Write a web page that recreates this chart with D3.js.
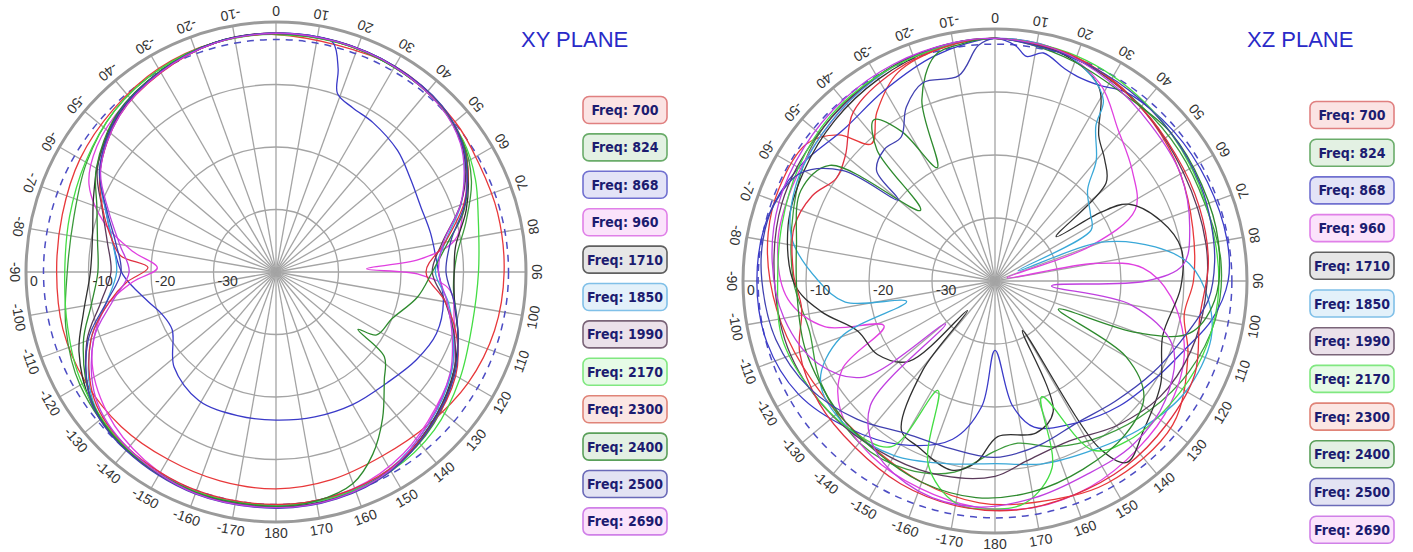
<!DOCTYPE html>
<html>
<head>
<meta charset="utf-8">
<script src="https://cdn.jsdelivr.net/npm/d3@7"></script>
<style>
  body { margin: 0; background: #fff; }
  text { font-family: Arial, "Liberation Sans", sans-serif; }
</style>
</head>
<body>
<script>
var width = 1413, height = 552;

var svg = d3.select("body").append("svg")
  .attr("width", width)
  .attr("height", height);

// legend / series info
var freqs = [700, 824, 868, 960, 1710, 1850, 1990, 2170, 2300, 2400, 2500, 2690];
var lineColors = ["#e8383a", "#3c9a3c", "#3a3ac8", "#e040e0", "#303030", "#3aa8d8",
  "#5a3a5a", "#44dd44", "#e03040", "#2e8a2e", "#4040b0", "#c040e0"];
var boxFills = ["#fbe3e3", "#e3f1e3", "#e3e3f7", "#fbe3fb", "#e6e6e6", "#e3f1fa",
  "#ebe1ea", "#e6fbe6", "#fbe6e3", "#e3f0e3", "#e3e3f3", "#fbe3fb"];
var boxStrokes = ["#e08080", "#6aac6a", "#7070d0", "#e080e8", "#606060", "#80c0e8",
  "#7a6478", "#80e880", "#e08478", "#5aa05a", "#6a6ab8", "#d080e8"];

var dbTicks = [0, -10, -20, -30];
var angleTicks = d3.range(0, 360, 10);

// XY plane, [angle deg clockwise from top, dB]
var xy700 = [[0,-2],[30,-2],[50,-2.6],[62,-3.2],[75,-3.3],[90,-3.5],[105,-3.8],[120,-4.5],[135,-5.5],[150,-6],[165,-5.6],[180,-5.3],[195,-5.4],[210,-5.4],[225,-5],[240,-4.8],[255,-4.7],[270,-4.9],[285,-4.6],[300,-3.8],[315,-3.2],[330,-2.4],[345,-2]];
var xy824 = [[0,-1.9],[20,-2],[40,-2.4],[55,-3.5],[65,-5.5],[75,-8.5],[85,-11],[95,-11.5],[105,-10],[115,-8],[130,-5.5],[145,-3.8],[160,-3],[180,-2.7],[200,-2.6],[220,-2.8],[240,-3.8],[255,-5.2],[270,-6.6],[285,-6.5],[300,-5],[315,-3.5],[330,-2.6],[345,-2]];
var xy868 = [[0,-1.8],[10,-1.8],[14,-2.2],[17,-6],[19,-9.8],[25,-11],[33,-11.5],[45,-12.5],[55,-13.8],[66,-14.6],[76,-14.5],[90,-14],[100,-12.8],[111,-12.5],[122,-13.5],[135,-14.9],[150,-15.5],[165,-16],[180,-16.3],[195,-16.2],[211,-16],[227,-17.7],[241,-21],[250,-20.5],[257,-19],[269,-15.5],[280,-13.5],[290,-11],[300,-7.5],[315,-4.5],[330,-3],[345,-2.1]];
var xy960 = [[0,-1.8],[20,-1.9],[40,-2.3],[52,-3.2],[62,-5.5],[72,-8.5],[80,-11],[85,-17],[88,-25.5],[91,-17],[96,-12],[105,-10.5],[118,-8],[130,-6.5],[145,-4.5],[160,-3.2],[180,-2.6],[200,-2.6],[215,-3.3],[230,-4.8],[245,-7.5],[258,-12],[266,-17],[272,-21],[278,-17],[285,-12],[295,-7],[305,-5],[318,-3.8],[332,-2.8],[346,-2]];
var xy1710 = [[0,-1.8],[20,-1.9],[40,-2.3],[55,-3.6],[63,-5.5],[72,-8],[82,-11],[90,-11.5],[100,-11],[110,-9],[122,-7],[135,-5.2],[150,-3.4],[165,-2.6],[180,-2.4],[200,-2.4],[220,-2.8],[235,-3.8],[248,-6],[258,-8.5],[270,-10.3],[282,-10],[292,-8.5],[302,-6.5],[315,-4.2],[330,-2.9],[345,-2]];
var xy1850 = [[0,-1.8],[15,-1.9],[30,-2],[45,-2.5],[55,-3.8],[62,-5.8],[70,-8.5],[80,-12.5],[90,-14.5],[100,-12],[110,-9.8],[120,-7.6],[135,-5.5],[150,-3.6],[165,-2.8],[180,-2.6],[200,-2.5],[220,-2.9],[235,-4.2],[250,-8.5],[260,-12.5],[270,-14.5],[280,-13.5],[290,-11],[300,-7.4],[315,-4.3],[330,-3],[345,-2.1]];
var xy1990 = [[0,-1.8],[15,-1.9],[30,-2],[45,-2.6],[55,-3.9],[62,-5.6],[70,-8.6],[80,-13],[90,-15],[100,-12.5],[110,-9.6],[120,-7.2],[135,-5.2],[150,-3.4],[165,-2.6],[180,-2.4],[200,-2.4],[220,-2.9],[235,-4],[250,-7.8],[260,-11.5],[270,-13.6],[280,-12.6],[290,-10.4],[300,-7],[315,-4.4],[330,-3.1],[345,-2.1]];
var xy2170 = [[0,-2],[20,-2],[40,-2.4],[55,-3.4],[65,-4.8],[75,-6.5],[90,-7.6],[105,-7.5],[120,-6],[135,-4.2],[150,-3.2],[165,-2.8],[180,-2.7],[200,-2.6],[220,-3],[240,-4.2],[255,-5.5],[270,-6.2],[285,-5.8],[300,-4.8],[315,-3.5],[330,-2.6],[345,-2.1]];
var xy2300 = [[0,-1.9],[15,-1.9],[30,-2.1],[45,-2.6],[55,-3.6],[62,-5.2],[70,-8],[80,-12.5],[90,-16],[100,-12.5],[110,-9.2],[120,-6.8],[135,-5],[150,-3.6],[165,-3],[180,-2.8],[200,-2.8],[220,-3.2],[235,-4.5],[250,-8.5],[260,-13],[266,-16],[272,-19.5],[276,-15],[282,-13],[290,-10.5],[300,-7.5],[315,-4.6],[330,-3.2],[345,-2.1]];
var xy2400 = [[0,-1.9],[20,-2],[40,-2.4],[55,-3.6],[63,-5.6],[72,-8.4],[80,-12],[90,-15],[100,-17],[112,-20],[122,-21],[125,-24],[128,-18],[135,-15.5],[144,-11],[152,-7],[160,-4],[170,-2.8],[180,-2.5],[200,-2.5],[220,-2.9],[235,-4],[250,-7.2],[260,-10],[270,-11.5],[280,-11],[290,-9.5],[300,-6.8],[315,-4.1],[330,-2.9],[345,-2]];
var xy2500 = [[0,-1.8],[15,-1.8],[30,-2],[45,-2.4],[55,-3.7],[62,-5.4],[70,-7.8],[80,-11.6],[90,-12.8],[100,-11],[110,-9],[120,-7],[135,-5],[150,-3.2],[165,-2.4],[180,-2.2],[200,-2.2],[220,-2.7],[235,-3.9],[250,-8],[260,-12.5],[270,-15.2],[280,-14],[290,-11.2],[300,-7.4],[315,-4.3],[330,-3],[345,-2]];
var xy2690 = [[0,-1.8],[15,-1.9],[30,-2.1],[45,-2.7],[55,-4],[62,-5.9],[70,-8.6],[80,-12.8],[90,-14],[100,-12.2],[110,-10],[120,-7.8],[135,-5.6],[150,-3.4],[165,-2.5],[180,-2.3],[200,-2.3],[220,-3.2],[235,-4.8],[250,-9],[260,-13.5],[270,-16.5],[280,-14.6],[290,-11.5],[300,-7.6],[315,-4.6],[330,-3.1],[345,-2.1]];

// XZ plane
var xz700 = [[0,-1.5],[15,-2],[30,-3],[45,-4.5],[60,-6],[75,-7.5],[90,-8.5],[100,-9.5],[111,-7.2],[129,-3.7],[151,-3.3],[170,-4.3],[184,-4.7],[200,-6],[218,-7.3],[236,-7.2],[255,-5.8],[270,-4.3],[282,-3.2],[293,-2.7],[306,-3],[313,-6],[318,-10.7],[325,-7.3],[335,-3.5],[348,-2]];
var xz824 = [[0,-1.5],[20,-2.5],[40,-3.8],[55,-4.2],[70,-4.5],[85,-4],[100,-4.5],[115,-6],[130,-8],[145,-10],[160,-12],[172,-14],[180,-13],[192,-9],[205,-7],[220,-6.5],[240,-8],[255,-9.5],[270,-8],[290,-6],[305,-4],[320,-3],[340,-2]];
var xz868 = [[0,-1.5],[5,-2.5],[8,-4],[12,-3],[18,-4.5],[22,-5],[28,-4.8],[35,-3.5],[50,-3],[65,-2.8],[80,-2.6],[90,-3],[100,-5],[110,-8],[120,-10],[135,-12],[150,-14],[165,-16],[172,-20],[180,-29],[186,-20],[195,-14],[210,-10],[225,-7],[240,-4],[255,-2.5],[270,-2.2],[285,-2.5],[300,-4],[315,-6],[330,-5],[345,-3]];
var xz960 = [[0,-1.5],[15,-2],[28,-4.5],[39,-9],[51,-12],[63,-15],[70,-24],[75,-38],[80,-24],[85,-16.4],[95,-12],[110,-8],[125,-6],[140,-5],[155,-4],[170,-3.5],[185,-4],[200,-5],[215,-6],[230,-8],[240,-12],[248,-21],[255,-12],[265,-7],[280,-5],[295,-4.5],[310,-4],[325,-3],[340,-2]];
var xz1710 = [[0,-1.5],[15,-2.2],[28,-5],[35.6,-11.7],[42,-14],[48.6,-16.5],[54,-28],[57,-20],[60,-15.6],[70,-12],[80,-10],[92,-10.5],[108,-12],[122,-9],[135,-6.6],[144,-4.4],[148,-8.7],[151,-31],[156,-17.3],[165,-15],[179,-15.3],[186,-11],[193,-9.2],[205,-11],[212,-12],[219,-21.8],[223,-33.6],[227,-21.3],[238,-18],[250,-16.8],[260,-12],[269,-8.2],[285,-6],[300,-5],[315,-4],[330,-3],[345,-2]];
var xz1850 = [[0,-1.5],[15,-2],[25,-4],[31,-6.6],[33,-10.6],[40,-15],[45.5,-19.4],[55,-21.5],[62,-22.7],[66,-36],[70,-22],[78,-14],[85,-9],[95,-6],[105,-4.5],[120,-5],[135,-7],[150,-9],[165,-10],[180,-11],[195,-10],[210,-8],[225,-7],[240,-8],[250,-14],[257,-25.6],[262,-16],[270,-12],[282,-7],[295,-5],[310,-4],[325,-3],[340,-2]];
var xz1990 = [[0,-1.5],[20,-2.5],[40,-4],[60,-5.5],[80,-6],[95,-6.5],[110,-7],[125,-8],[140,-10],[155,-12],[170,-11],[180,-9],[195,-8],[210,-7.5],[230,-6.5],[250,-5.5],[270,-5],[290,-4],[310,-3.5],[330,-2.5],[345,-1.8]];
var xz2170 = [[0,-1.5],[20,-2],[40,-3],[60,-4],[80,-4.5],[95,-4.5],[110,-5],[125,-6],[140,-7],[150,-9],[158,-20.2],[163,-9],[172,-4.5],[180,-3.8],[190,-4.2],[200,-9],[207.5,-20.4],[212,-9],[225,-7],[240,-6],[255,-5],[270,-5.5],[285,-5],[300,-4],[315,-3],[330,-2.5],[345,-2]];
var xz2300 = [[0,-1.5],[20,-2.2],[40,-4],[55,-5],[70,-5.5],[85,-6],[100,-7],[115,-5],[130,-4.5],[145,-4],[160,-3.8],[175,-3.5],[190,-3.8],[205,-4.5],[220,-5.5],[235,-6],[250,-7],[262,-9],[272,-8],[285,-7],[295,-8],[303,-10],[310,-9],[320,-5],[335,-3],[348,-2]];
var xz2400 = [[0,-1.5],[8,-2],[20,-3],[35,-4],[50,-3.5],[65,-3.8],[80,-4],[95,-5],[105,-8],[110,-16],[114,-29],[120,-16],[128,-10],[140,-8],[155,-7],[170,-6],[185,-5.5],[200,-6],[215,-7],[230,-7.5],[250,-8],[265,-8.5],[280,-8],[295,-6],[305,-8],[313.5,-23.7],[318,-12],[323,-8],[328,-12],[333,-19.8],[338,-9],[345,-3],[352,-2]];
var xz2500 = [[0,-1.5],[8,-2],[20,-2.5],[35,-3],[50,-3.5],[65,-4],[75,-4.5],[85,-5],[95,-6],[108,-9],[120,-11],[135,-13],[150,-14],[165,-13],[180,-12],[195,-12.5],[210,-12],[225,-9],[240,-6],[255,-4],[270,-3],[280,-2.6],[289,-2.9],[299,-4.7],[306,-10.2],[310,-20],[313,-14.3],[320,-12.7],[327,-12.7],[333,-9],[340,-6.5],[350,-6.9],[356,-2.5]];
var xz2690 = [[0,-1.5],[15,-2],[30,-3.5],[45,-5],[60,-6],[75,-8],[85,-10],[90,-16],[95,-31],[100,-18],[110,-10],[125,-7],[140,-6],[155,-6],[170,-5],[185,-4],[200,-4.5],[215,-7],[225,-12],[229,-29.6],[234,-14],[245,-9],[260,-6],[275,-4.5],[290,-3.5],[305,-3],[320,-2.5],[335,-2],[350,-1.6]];

var xySeries = [xy700, xy824, xy868, xy960, xy1710, xy1850, xy1990, xy2170, xy2300, xy2400, xy2500, xy2690];
var xzSeries = [xz700, xz824, xz868, xz960, xz1710, xz1850, xz1990, xz2170, xz2300, xz2400, xz2500, xz2690];

function rad(d) { return d * Math.PI / 180; }

function drawPolar(cx, cy, R, series, refDb) {
  var r = d3.scaleLinear().domain([-40, 0]).range([0, R]).clamp(true);

  var g = svg.append("g")
    .attr("transform", "translate(" + cx + "," + cy + ")");

  // spokes
  g.selectAll(".spoke").data(angleTicks).enter()
    .append("line")
    .attr("x1", 0).attr("y1", 0)
    .attr("x2", function (d) { return R * Math.sin(rad(d)); })
    .attr("y2", function (d) { return -R * Math.cos(rad(d)); })
    .attr("stroke", "#a4a4a4")
    .attr("stroke-width", 1.3);

  // rings
  g.selectAll(".ring").data(dbTicks.slice(1)).enter()
    .append("circle")
    .attr("r", function (d) { return r(d); })
    .attr("fill", "none")
    .attr("stroke", "#a4a4a4")
    .attr("stroke-width", 1.3);

  g.append("circle")
    .attr("r", r(0))
    .attr("fill", "none")
    .attr("stroke", "#9a9a9a")
    .attr("stroke-width", 3);

  // dashed reference circle
  g.append("circle")
    .attr("r", r(refDb))
    .attr("fill", "none")
    .attr("stroke", "#4c4cc4")
    .attr("stroke-width", 1.5)
    .style("stroke-dasharray", ("7, 6"));

  var line = d3.lineRadial()
    .angle(function (d) { return rad(d[0]); })
    .radius(function (d) { return r(d[1]); })
    .curve(d3.curveCatmullRomClosed.alpha(0.5));

  g.selectAll(".trace").data(series).enter()
    .append("path")
    .attr("d", line)
    .attr("fill", "none")
    .attr("stroke", function (d, i) { return lineColors[i]; })
    .attr("stroke-width", 1.3);

  // dB labels along the -90 spoke
  g.selectAll(".dblabel").data(dbTicks).enter()
    .append("text")
    .attr("x", function (d) { return -r(d) + 4; })
    .attr("y", 14)
    .style("font-size", "14px")
    .attr("fill", "#333")
    .text(function (d) { return d; });

  // angle labels, top of the glyphs facing the centre
  g.selectAll(".anglabel").data(angleTicks).enter()
    .append("text")
    .attr("transform", function (d) {
      var x = (R + 11) * Math.sin(rad(d)), y = -(R + 11) * Math.cos(rad(d));
      return "translate(" + x + "," + y + ") rotate(" + (d + 180) + ")";
    })
    .attr("text-anchor", "middle")
    .attr("dominant-baseline", "central")
    .style("font-size", "14px")
    .attr("fill", "#333")
    .text(function (d) { return d <= 180 ? d : d - 360; });
}

function drawLegend(x, y0, step) {
  var lg = svg.append("g");
  var item = lg.selectAll(".item").data(freqs).enter()
    .append("g")
    .attr("transform", function (d, i) { return "translate(" + x + "," + (y0 + i * step) + ")"; });

  item.append("rect")
    .attr("x", 0).attr("y", -13.5)
    .attr("width", 84).attr("height", 27)
    .attr("rx", 6)
    .attr("fill", function (d, i) { return boxFills[i]; })
    .attr("stroke", function (d, i) { return boxStrokes[i]; })
    .attr("stroke-width", 1.6);

  item.append("text")
    .attr("x", 42).attr("y", 5)
    .attr("text-anchor", "middle")
    .style("font-family", "'Liberation Sans Narrow', 'DejaVu Sans Condensed', Arial, sans-serif")
    .style("font-weight", "bold")
    .style("font-size", "14px")
    .attr("fill", "#1c1c70")
    .text(function (d) { return "Freq: " + d; });
}

drawPolar(276, 272, 250, xySeries, -2.8);
drawPolar(995, 281, 252, xzSeries, -2.4);

svg.append("text").attr("x", 521).attr("y", 47)
  .style("font-size", "22px").attr("fill", "#2a2ac8").text("XY PLANE");
svg.append("text").attr("x", 1247).attr("y", 47)
  .style("font-size", "22px").attr("fill", "#2a2ac8").text("XZ PLANE");

drawLegend(583, 110, 37.4);
drawLegend(1310, 115, 37.7);
</script>
</body>
</html>
